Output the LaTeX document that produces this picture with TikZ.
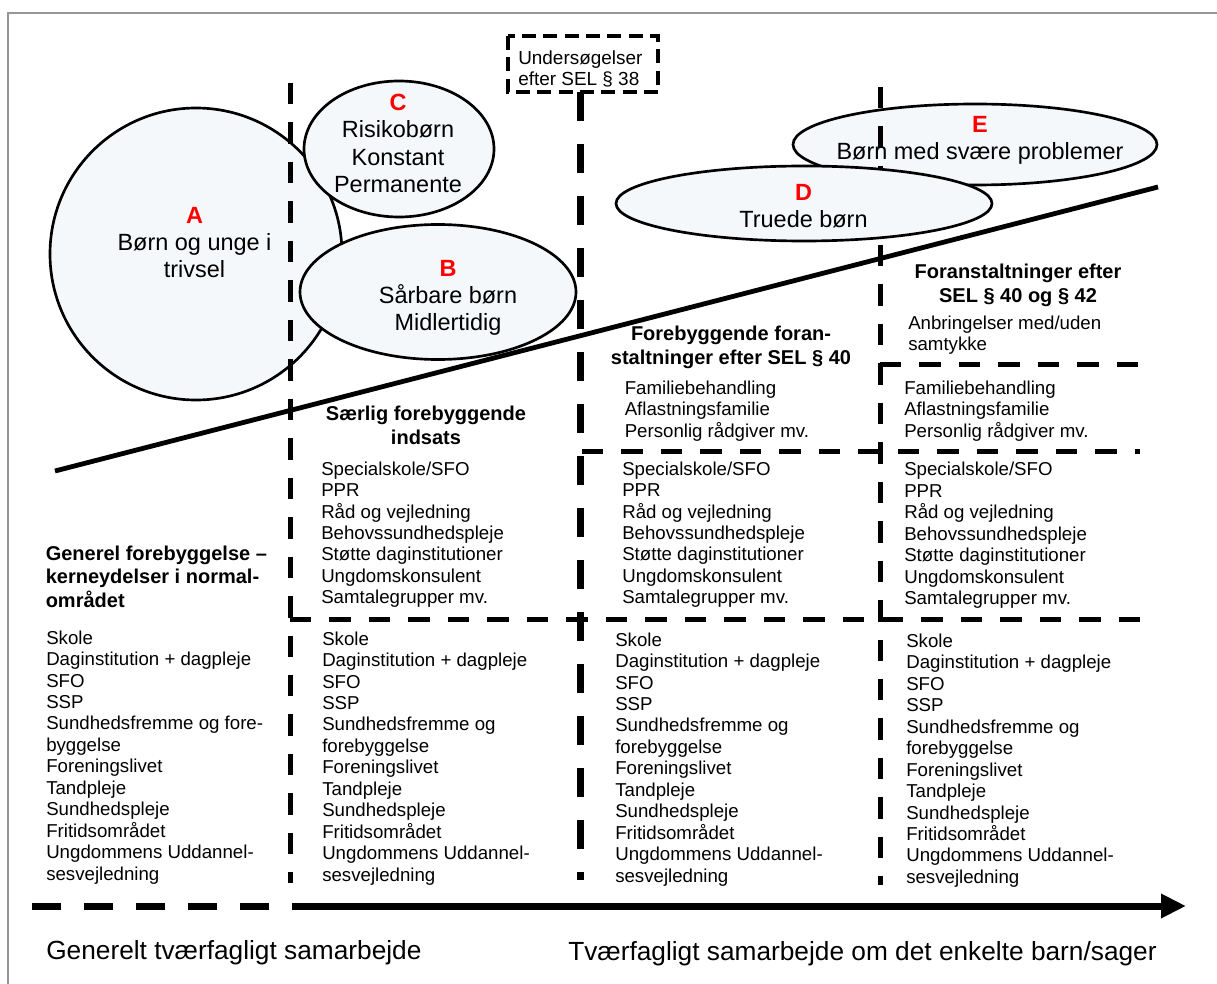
\documentclass[tikz,border=0pt]{standalone}
\usepackage{fontspec}
\setmainfont{Liberation Sans}
\usetikzlibrary{arrows.meta}

\definecolor{bubblefill}{RGB}{244,248,250}
\definecolor{letterred}{RGB}{255,0,0}
\definecolor{framegray}{RGB}{150,150,150}

\newcommand{\basislist}{Skole\\Daginstitution + dagpleje\\SFO\\SSP\\Sundhedsfremme og\\forebyggelse\\Foreningslivet\\Tandpleje\\Sundhedspleje\\Fritidsområdet\\Ungdommens Uddannel-\\sesvejledning}
\newcommand{\saerliglist}{Specialskole/SFO\\PPR\\Råd og vejledning\\Behovssundhedspleje\\Støtte daginstitutioner\\Ungdomskonsulent\\Samtalegrupper mv.}
\newcommand{\familielist}{Familiebehandling\\Aflastningsfamilie\\Personlig rådgiver mv.}

\begin{document}
\begin{tikzpicture}[x=0.75pt,y=0.75pt,yscale=-1,xscale=1,
  bubble/.style={draw=black, line width=2pt, fill=bubblefill},
  thindash/.style={line width=3.75pt, dash pattern={on 16.1pt off 13.5pt}},
  thickdash/.style={line width=5.25pt, dash pattern={on 21.75pt off 17.25pt}},
  boxdash/.style={line width=2.6pt, dash pattern={on 10.5pt off 5.5pt}},
  bubbletext/.style={anchor=north, inner sep=0pt, align=center, font=\fontsize{17.6}{20.6}\selectfont},
  headtext/.style={anchor=north, inner sep=0pt, align=center, font=\bfseries\fontsize{15}{17.6}\selectfont},
  listtext/.style={anchor=north west, inner sep=0pt, align=left, font=\fontsize{14}{16.1}\selectfont},
  bottomtext/.style={anchor=north west, inner sep=0pt, font=\fontsize{19.7}{23}\selectfont}]
\useasboundingbox (0,0) rectangle (1217,984);

%Frame
\draw [color=framegray, line width=1.5pt] (8,984) -- (8,13) -- (1217,13) ;

%Shape: Ellipse E
\draw [bubble] (975,144.5) ellipse [x radius=182, y radius=40.5] ;
% Text Node
\node [bubbletext] (txtE) at (980,115.6) {{\color{letterred}\bfseries E}\\Børn med svære problemer};
%Shape: Circle A
\draw [bubble] (196,254) ellipse [x radius=146, y radius=146] ;

%Dashed columns
\draw [thindash] (290,83) -- (290,883) ;
\draw [thickdash] (580,92) -- (580,880) ;
\draw [thindash] (880,87) -- (880,885) ;

%Shape: Ellipse C
\draw [bubble] (399,149) ellipse [x radius=95, y radius=68] ;
%Shape: Ellipse B
\draw [bubble] (438,292) ellipse [x radius=138, y radius=67.5] ;
%Shape: Ellipse D
\draw [bubble] (804,203.5) ellipse [x radius=188, y radius=37.5] ;

%Straight Lines (rising line)
\coordinate (riseL) at (55,471) ;
\coordinate (riseR) at (1158,187) ;
\draw [line width=3.6pt] (riseL) -- (riseR) ;

%Dashed rows
\draw [thindash] (290,619) -- (1140,619) ;
\draw [thindash] (582,451) -- (1140,451) ;
\draw [thindash] (880,364) -- (1140,364) ;

%Shape: Rectangle (SEL 38)
\draw [boxdash] (508,36) rectangle (658,92) ;

%Axis
\coordinate (axisL) at (32,906) ;
\coordinate (axisM) at (295,906) ;
\coordinate (axisR) at (1186,906) ;
\draw [thickdash] (axisL) -- (axisM) ;
\draw [line width=5.25pt, -{Triangle[length=18.75pt, width=17.25pt]}] (axisM) -- (axisR) ;

% Text Node
\node [bubbletext] (txtA) at (194.5,206.6) {{\color{letterred}\bfseries A}\\Børn og unge i\\trivsel};
% Text Node
\node [bubbletext] (txtC) at (398,93.6) {{\color{letterred}\bfseries C}\\Risikobørn\\Konstant\\Permanente};
% Text Node
\node [bubbletext] (txtB) at (448,259.6) {{\color{letterred}\bfseries B}\\Sårbare børn\\Midlertidig};
% Text Node
\node [bubbletext] (txtD) at (803.5,183.6) {{\color{letterred}\bfseries D}\\Truede børn};

% Text Node
\node [listtext, font=\fontsize{14.2}{15.75}\selectfont] (undersog) at (518,50.2) {Undersøgelser\\efter SEL § 38};

% Text Node
\node [headtext, anchor=north west, align=left] (headGen) at (45.5,545.5) {Generel forebyggelse –\\kerneydelser i normal-\\området};
% Text Node
\node [headtext] (headSaer) at (426,405.8) {Særlig forebyggende\\indsats};
% Text Node
\node [headtext] (headFore) at (731,325.8) {Forebyggende foran-\\staltninger efter SEL § 40};
% Text Node
\node [headtext] (headForan) at (1018,263.8) {Foranstaltninger efter\\SEL § 40 og § 42};

% Text Node
\node [listtext] (anbring) at (908,315.3) {Anbringelser med/uden\\samtykke};
% Text Node
\node [listtext] (famThree) at (624.5,380.3) {\familielist};
% Text Node
\node [listtext] (famFour) at (904,380.3) {\familielist};

% Text Node
\node [listtext] (saerTwo) at (321,461.3) {\saerliglist};
% Text Node
\node [listtext] (saerThree) at (622,461.3) {\saerliglist};
% Text Node
\node [listtext] (saerFour) at (904,462) {\saerliglist};

% Text Node
\node [listtext] (basisOne) at (46,630.3) {Skole\\Daginstitution + dagpleje\\SFO\\SSP\\Sundhedsfremme og fore-\\byggelse\\Foreningslivet\\Tandpleje\\Sundhedspleje\\Fritidsområdet\\Ungdommens Uddannel-\\sesvejledning};
% Text Node
\node [listtext] (basisTwo) at (322,631.3) {\basislist};
% Text Node
\node [listtext] (basisThree) at (615,632.3) {\basislist};
% Text Node
\node [listtext] (basisFour) at (906,633.5) {\basislist};

% Text Node
\node [bottomtext] (samGen) at (46,939.7) {Generelt tværfagligt samarbejde};
% Text Node
\node [bottomtext] (samBarn) at (568,940.7) {Tværfagligt samarbejde om det enkelte barn/sager};

\end{tikzpicture}
\end{document}
